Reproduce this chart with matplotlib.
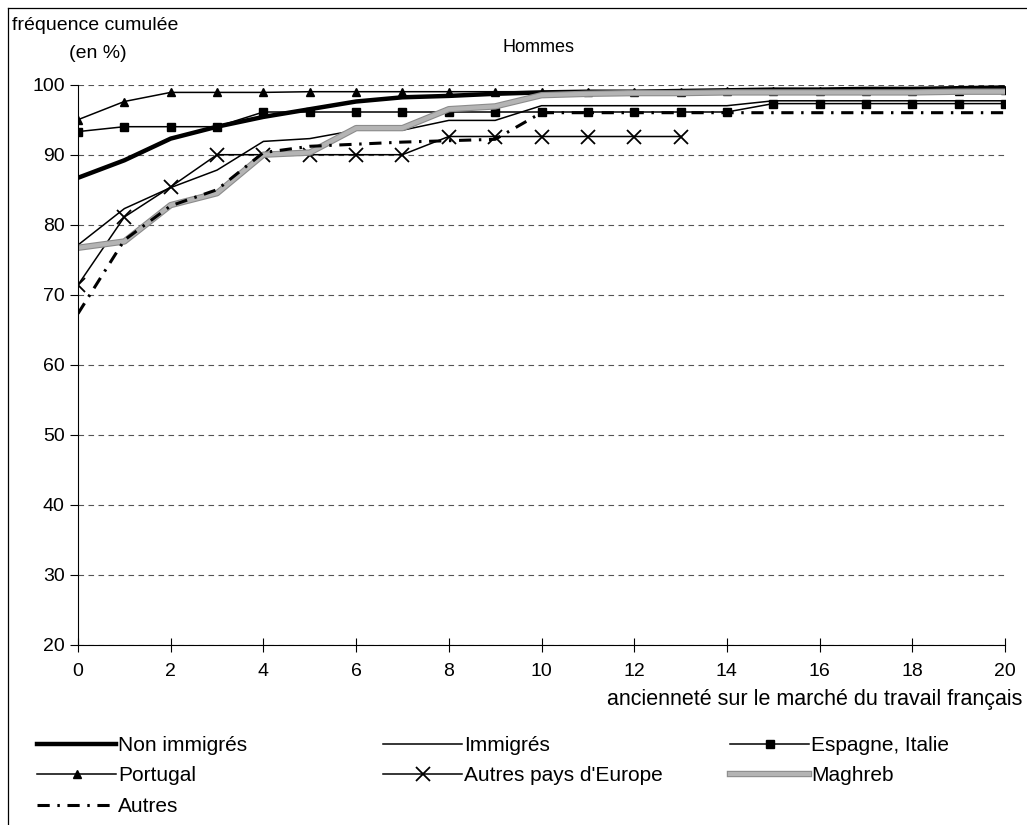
import numpy as np
import matplotlib
matplotlib.use('Agg')
from matplotlib import pyplot as plt
from matplotlib.lines import Line2D
import matplotlib.patheffects as pe

plt.rcParams['font.family'] = ['Liberation Sans', 'DejaVu Sans']

years = list(range(21))

non_immigres = [86.7, 89.2, 92.3, 94.0, 95.4, 96.5, 97.6, 98.2, 98.4, 98.7, 98.9,
                99.0, 99.0, 99.1, 99.2, 99.3, 99.3, 99.4, 99.4, 99.5, 99.6]
immigres = [77.1, 82.3, 85.3, 87.8, 91.9, 92.3, 93.5, 93.5, 94.9, 94.9, 97.0,
            97.0, 97.0, 97.0, 97.0, 97.7, 97.7, 97.7, 97.7, 97.7, 97.7]
espagne_italie = [93.3, 94.0, 94.0, 94.0, 96.1, 96.1, 96.1, 96.1, 96.1, 96.1, 96.1,
                  96.1, 96.1, 96.1, 96.1, 97.3, 97.3, 97.3, 97.3, 97.3, 97.3]
portugal = [95.0, 97.6, 98.9, 98.9, 98.9, 99.0, 99.0, 99.0, 99.0, 99.0, 99.0,
            99.0, 99.0, 99.0, 99.1, 99.1, 99.1, 99.1, 99.1, 99.1, 99.2]
autres_europe = [71.4, 81.1, 85.4, 90.0, 90.0, 90.0, 90.0, 90.0, 92.6, 92.6, 92.6,
                 92.6, 92.6, 92.6]
maghreb = [76.7, 77.6, 82.8, 84.5, 90.0, 90.3, 93.8, 93.8, 96.5, 96.9, 98.5,
           98.7, 98.8, 98.8, 98.9, 98.9, 98.9, 98.9, 98.9, 99.0, 99.0]
autres = [67.3, 77.8, 82.7, 85.0, 90.3, 91.2, 91.5, 91.8, 92.0, 92.2, 96.0,
          96.0, 96.0, 96.0, 96.0, 96.0, 96.0, 96.0, 96.0, 96.0, 96.0]

W, H = 1027, 825
fig = plt.figure(figsize=(W / 100, H / 100), dpi=100)
ax = fig.add_axes([78 / W, 1 - 644.7 / H, 927 / W, 560 / H])

fs = 14

ln_non, = ax.plot(years, non_immigres, color='black', lw=3.2, solid_joinstyle='round')
ln_imm, = ax.plot(years, immigres, color='black', lw=1.1)
ln_esp, = ax.plot(years, espagne_italie, color='black', lw=1.1, marker='s', ms=6)
ln_por, = ax.plot(years, portugal, color='black', lw=1.1, marker='^', ms=6)
ln_eur, = ax.plot(years[:len(autres_europe)], autres_europe, color='black', lw=1.1,
                  marker='x', ms=10, mew=1.3)
ln_mag, = ax.plot(years, maghreb, color='#b4b4b4', lw=3.0,
                  path_effects=[pe.Stroke(linewidth=4.6, foreground='#8c8c8c'), pe.Normal()])
ln_aut, = ax.plot(years, autres, color='black', lw=2.2, linestyle=(0, (4, 2.5, 0.8, 2.5)))

ax.set_xlim(0, 20)
ax.set_ylim(20, 100)
ax.set_xticks(range(0, 21, 2))
ax.set_yticks(range(20, 101, 10))
ax.yaxis.grid(True, color='#555555', linestyle=(0, (5, 4)), lw=0.8)
ax.set_axisbelow(True)
for s in ['top', 'right']:
    ax.spines[s].set_visible(False)
ax.spines['left'].set_linewidth(0.8)
ax.spines['bottom'].set_linewidth(0.8)
ax.tick_params(axis='both', labelsize=fs, direction='out', length=6, width=0.8)
ax.tick_params(axis='x', direction='inout', length=10, pad=8)

fig.text(12 / W, 1 - 26 / H, 'fréquence cumulée', fontsize=fs, va='center', ha='left')
fig.text(98 / W, 1 - 53 / H, '(en %)', fontsize=fs, va='center', ha='center')
fig.text(538 / W, 1 - 48 / H, 'Hommes', fontsize=13, va='center', ha='center')
fig.text(1022 / W, 1 - 699 / H, 'ancienneté sur le marché du travail français',
         fontsize=15.5, va='center', ha='right')

# legend: three columns placed one by one
cols = [
    ([ln_non, ln_por, ln_aut], ['Non immigrés', 'Portugal', 'Autres'], 37),
    ([ln_imm, ln_eur], ['Immigrés', "Autres pays d'Europe"], 383),
    ([ln_esp, ln_mag], ['Espagne, Italie', 'Maghreb'], 730),
]
for handles, labels, x0 in cols:
    fig.legend(handles, labels, loc='upper left', bbox_to_anchor=(x0 / W, 1 - 736 / H),
               frameon=False, fontsize=15, handlelength=3.8, handletextpad=0.1,
               borderpad=0, borderaxespad=0, labelspacing=0.55)

# outer frame (left and top only)
fig.add_artist(Line2D([8 / W, 8 / W], [0, 1 - 8 / H], color='black', lw=0.9))
fig.add_artist(Line2D([8 / W, 1], [1 - 8 / H, 1 - 8 / H], color='black', lw=0.9))

fig.savefig('out.png', dpi=100)
